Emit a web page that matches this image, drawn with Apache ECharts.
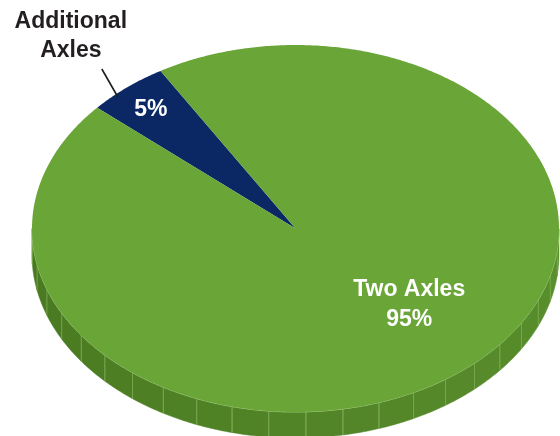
<!DOCTYPE html>
<html>
<head>
<meta charset="utf-8">
<script src="https://cdn.jsdelivr.net/npm/echarts@6/dist/echarts.min.js"></script>
<style>
html,body{margin:0;padding:0;background:#fff;}
#chart{width:560px;height:436px;}
</style>
</head>
<body>
<div id="chart"></div>
<script>
// ---- data ----
const categories = ['Additional Axles', 'Two Axles'];
const values = [5, 95];
const percentLabels = ['5%', '95%'];

// ---- style ----
const topColors = ['#0b2865', '#6aa537'];
const sideLeft = [72, 120, 32], sideRight = [90, 144, 45];
const startAngle = 138.8;   // degrees, counter-clockwise from east; slices go clockwise
const depth = 26;
const FONT = 'Liberation Sans, Arial, sans-serif';

const total = values.reduce((a, b) => a + b, 0);
let acc = 0;
const sliceData = values.map((v, i) => {
  const a1 = startAngle - acc / total * 360;
  acc += v;
  const a2 = startAngle - acc / total * 360;
  return { value: [a1, a2, v], name: categories[i] };
});

function mix(c1, c2, u) {
  const r = c1.map((c, k) => Math.round(c + (c2[k] - c) * u));
  return 'rgb(' + r.join(',') + ')';
}

function renderItem(params, api) {
  const a1 = api.value(0), a2 = api.value(1);
  const idx = params.dataIndex;
  const R = d => d * Math.PI / 180;
  const P = (deg, fx, fy) => api.coord([(fx == null ? 1 : fx) * Math.cos(R(deg)), (fy == null ? (fx == null ? 1 : fx) : fy) * Math.sin(R(deg))]);
  const children = [];

  // sides (front lower half)
  for (let m = -1; m <= 1; m++) {
    const lo = Math.max(a2, 180 + 360 * m), hi = Math.min(a1, 360 + 360 * m);
    if (hi <= lo) continue;
    const base = 272.3 + 360 * m, step = 8.1;
    let kStart = Math.floor((lo - base) / step);
    for (let k = kStart; base + k * step < hi; k++) {
      const f0 = Math.max(lo, base + k * step), f1 = Math.min(hi, base + (k + 1) * step);
      if (f1 <= f0) continue;
      const topPts = [], botPts = [];
      for (let t = f0; t <= f1 + 1e-6; t += Math.min(0.5, (f1 - f0))) {
        const p = P(Math.min(t, f1));
        topPts.push(p);
        botPts.push([p[0], p[1] + depth]);
      }
      const u = ((f0 + f1) / 2 - 180 - 360 * m) / 180;
      const pts = topPts.concat(botPts.reverse());
      children.push({ type: 'polygon', shape: { points: pts }, style: { fill: mix(sideLeft, sideRight, u), stroke: mix(sideLeft, sideRight, u), lineWidth: 0.5 }, z2: 1 });
      if (f0 > lo + 1e-6) {
        const p = P(f0);
        children.push({ type: 'line', shape: { x1: p[0], y1: p[1], x2: p[0], y2: p[1] + depth }, style: { stroke: '#78a94e', lineWidth: 1, opacity: 0.85 }, z2: 2 });
      }
    }
    // edge highlight
    const edge = [];
    for (let t = lo; t <= hi + 1e-6; t += 0.5) edge.push(P(Math.min(t, hi)));
    children.push({ type: 'polyline', shape: { points: edge }, style: { stroke: '#a3cc7f', lineWidth: 1, fill: null }, z2: 3 });
  }

  // top surface
  const pts = [api.coord([0, 0])];
  for (let t = a1; t >= a2 - 1e-6; t -= 0.5) pts.push(P(Math.max(t, a2)));
  pts.push(P(a2));
  children.push({ type: 'polygon', shape: { points: pts }, style: { fill: topColors[idx], stroke: null }, z2: 4 });

  const mid = (a1 + a2) / 2;
  if (idx === 0) {
    const lp = P(mid, 0.857, 0.83);
    children.push({ type: 'text', x: lp[0], y: lp[1] - 2, style: { text: percentLabels[0], fill: '#ffffff', font: 'bold 23px ' + FONT, align: 'center', verticalAlign: 'middle' }, z2: 10 });
    const e = P(mid);
    children.push({ type: 'line', shape: { x1: e[0] - 9, y1: e[1] + 9.5, x2: e[0] - 25, y2: e[1] - 18.5 }, style: { stroke: '#1e1e1e', lineWidth: 1.6 }, z2: 10 });
    children.push({ type: 'text', x: e[0] - 56, y: e[1] - 51.5, style: { text: 'Additional\nAxles', fill: '#231f20', font: 'bold 23px ' + FONT, lineHeight: 29, align: 'center', verticalAlign: 'middle' }, z2: 10 });
  } else {
    const lp = P(mid, 0.674, 0.54);
    children.push({ type: 'text', x: lp[0], y: lp[1], style: { text: 'Two Axles\n' + percentLabels[1], fill: '#ffffff', font: 'bold 23px ' + FONT, lineHeight: 30, align: 'center', verticalAlign: 'middle' }, z2: 10 });
  }
  return { type: 'group', children: children };
}

const chart = echarts.init(document.getElementById('chart'), null, { renderer: 'canvas' });
chart.setOption({
  animation: false,
  backgroundColor: '#ffffff',
  grid: { left: 32, right: 1, top: 45, bottom: 24 },
  xAxis: { type: 'value', min: -1, max: 1, show: false },
  yAxis: { type: 'value', min: -1, max: 1, show: false },
  series: [{
    type: 'custom',
    renderItem: renderItem,
    clip: false,
    data: sliceData
  }]
});
</script>
</body>
</html>
